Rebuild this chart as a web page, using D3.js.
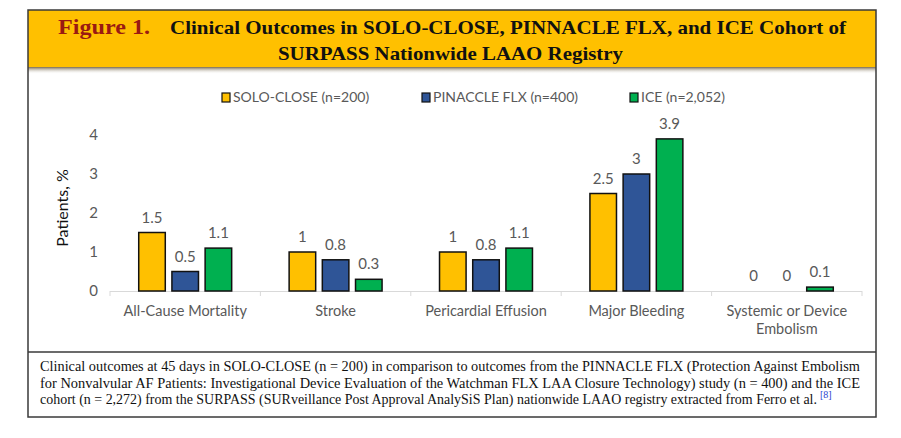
<!DOCTYPE html>
<html>
<head>
<meta charset="utf-8">
<script src="https://cdn.jsdelivr.net/npm/d3@7"></script>
<style>
  body { margin: 0; background: #fff; }
  svg { display: block; }
  .sans { font-family: Lato, "Open Sans", sans-serif; }
  .serif { font-family: "Liberation Serif", "DejaVu Serif", serif; }
</style>
</head>
<body>
<div id="chart"></div>
<script>
'use strict';
(function() {
  // Data
  var categories = ['All-Cause Mortality', 'Stroke', 'Pericardial Effusion', 'Major Bleeding', 'Systemic or Device Embolism'];
  var seriesNames = ['SOLO-CLOSE (n=200)', 'PINACCLE FLX (n=400)', 'ICE (n=2,052)'];
  var soloClose = [1.5, 1, 1, 2.5, 0];
  var pinnacleFlx = [0.5, 0.8, 0.8, 3, 0];
  var ice = [1.1, 0.3, 1.1, 3.9, 0.1];
  var yTicks = [0, 1, 2, 3, 4];
  var titleLines = ['Clinical Outcomes in SOLO-CLOSE, PINNACLE FLX, and ICE Cohort of', 'SURPASS Nationwide LAAO Registry'];
  var captionLines = [
    'Clinical outcomes at 45 days in SOLO-CLOSE (n = 200) in comparison to outcomes from the PINNACLE FLX (Protection Against Embolism',
    'for Nonvalvular AF Patients: Investigational Device Evaluation of the Watchman FLX LAA Closure Technology) study (n = 400) and the ICE',
    'cohort (n = 2,272) from the SURPASS (SURveillance Post Approval AnalySiS Plan) nationwide LAAO registry extracted from Ferro et al.'
  ];

  // Colors
  var COLORS = ['#FFC000', '#2F5597', '#00B050'];

  var w = 901;
  var h = 438;
  var box = {left: 28, right: 876, top: 10, bottom: 417};
  var plot = {left: 110, right: 862, top: 135, bottom: 291};

  var series = [soloClose, pinnacleFlx, ice];
  var rows = categories.map(function(c, i) {
    return {name: c, values: series.map(function(s, j) { return {key: j, value: s[i]}; })};
  });

  var svg = d3.select('#chart')
    .append('svg')
    .attr('width', w)
    .attr('height', h);

  var defs = svg.append('defs');
  var grad = defs.append('linearGradient')
    .attr('id', 'shadow')
    .attr('x1', 0).attr('y1', 0).attr('x2', 0).attr('y2', 1);
  grad.append('stop').attr('offset', '0%').attr('stop-color', '#6b5a3a').attr('stop-opacity', 0.9);
  grad.append('stop').attr('offset', '100%').attr('stop-color', '#ffffff').attr('stop-opacity', 0);

  // Banner
  svg.append('rect')
    .attr('x', box.left).attr('y', 67)
    .attr('width', box.right - box.left).attr('height', 7)
    .attr('fill', 'url(#shadow)');
  svg.append('rect')
    .attr('x', box.left).attr('y', box.top)
    .attr('width', box.right - box.left).attr('height', 57)
    .attr('fill', '#FFC000');

  // Frame
  svg.append('rect')
    .attr('x', box.left).attr('y', box.top)
    .attr('width', box.right - box.left).attr('height', box.bottom - box.top)
    .attr('fill', 'none')
    .attr('stroke', '#3a3a3a')
    .attr('stroke-width', 1.5);
  svg.append('line')
    .attr('x1', box.left).attr('x2', box.right)
    .attr('y1', 352).attr('y2', 352)
    .attr('stroke', '#3a3a3a')
    .attr('stroke-width', 1.5);

  // Title
  svg.append('text')
    .attr('class', 'serif')
    .attr('x', 58).attr('y', 34)
    .attr('font-size', 21)
    .attr('font-weight', 'bold')
    .attr('fill', '#9a1a12')
    .attr('textLength', 92)
    .attr('lengthAdjust', 'spacingAndGlyphs')
    .text('Figure 1.');
  svg.append('text')
    .attr('class', 'serif')
    .attr('x', 170).attr('y', 34)
    .attr('font-size', 19)
    .attr('font-weight', 'bold')
    .attr('fill', '#111')
    .attr('textLength', 676)
    .attr('lengthAdjust', 'spacingAndGlyphs')
    .text(titleLines[0]);
  svg.append('text')
    .attr('class', 'serif')
    .attr('x', 278).attr('y', 60)
    .attr('font-size', 19)
    .attr('font-weight', 'bold')
    .attr('fill', '#111')
    .attr('textLength', 345)
    .attr('lengthAdjust', 'spacingAndGlyphs')
    .text(titleLines[1]);

  // Scales
  var x0 = d3.scaleBand()
    .domain(categories)
    .range([plot.left, plot.right])
    .paddingInner(0.382)
    .paddingOuter(0.191);

  var x1 = d3.scaleBand()
    .domain([0, 1, 2])
    .range([0, x0.bandwidth()])
    .paddingInner(0.2);

  var yScale = d3.scaleLinear()
    .domain([0, 4])
    .range([plot.bottom, plot.top]);

  // Y axis
  var yAxis = d3.axisLeft(yScale)
    .tickValues(yTicks)
    .tickSize(0)
    .tickPadding(0)
    .tickFormat(d3.format('d'));

  var gy = svg.append('g')
    .attr('class', 'sans')
    .attr('transform', 'translate(98,0)')
    .call(yAxis);
  gy.select('.domain').remove();
  gy.selectAll('text')
    .attr('font-size', 15)
    .attr('font-family', 'Lato, sans-serif')
    .attr('fill', '#595959');

  svg.append('text')
    .attr('class', 'sans')
    .attr('transform', 'translate(68,' + 208 + ') rotate(-90)')
    .attr('text-anchor', 'middle')
    .attr('font-size', 16)
    .attr('fill', '#111')
    .text('Patients, %');

  // X axis
  var step = x0.step();
  var bounds = categories.map(function(c) { return x0(c) - x0.paddingOuter() * step; });
  bounds.push(plot.right);

  svg.append('line')
    .attr('x1', plot.left).attr('x2', plot.right)
    .attr('y1', plot.bottom + 0.5).attr('y2', plot.bottom + 0.5)
    .attr('stroke', '#D9D9D9')
    .attr('stroke-width', 1);
  svg.append('g')
    .selectAll('line')
    .data(bounds)
    .enter()
    .append('line')
    .attr('x1', function(d) { return d; })
    .attr('x2', function(d) { return d; })
    .attr('y1', plot.bottom)
    .attr('y2', plot.bottom + 5)
    .attr('stroke', '#D9D9D9');

  // Category labels
  var catLabels = svg.append('g')
    .attr('class', 'sans')
    .selectAll('text')
    .data(categories)
    .enter()
    .append('text')
    .attr('text-anchor', 'middle')
    .attr('font-size', 14.5)
    .attr('fill', '#595959')
    .attr('x', function(d) { return x0(d) + x0.bandwidth() / 2; })
    .attr('y', 316);
  catLabels.each(function(d) {
    var t = d3.select(this);
    var parts = d === 'Systemic or Device Embolism' ? ['Systemic or Device', 'Embolism'] : [d];
    parts.forEach(function(p, i) {
      t.append('tspan')
        .attr('x', x0(d) + x0.bandwidth() / 2)
        .attr('dy', i === 0 ? 0 : 18)
        .text(p);
    });
  });

  // Bars
  var groups = svg.append('g')
    .attr('class', 'data')
    .selectAll('g')
    .data(rows)
    .enter()
    .append('g')
    .attr('transform', function(d) { return 'translate(' + x0(d.name) + ',0)'; });

  groups.selectAll('rect')
    .data(function(d) { return d.values.filter(function(v) { return v.value > 0; }); })
    .enter()
    .append('rect')
    .attr('x', function(d) { return x1(d.key); })
    .attr('y', function(d) { return yScale(d.value); })
    .attr('width', x1.bandwidth())
    .attr('height', function(d) { return plot.bottom - yScale(d.value); })
    .attr('fill', function(d) { return COLORS[d.key]; })
    .attr('stroke', '#111')
    .attr('stroke-width', 1.5);

  // Value labels
  groups.selectAll('text')
    .data(function(d) { return d.values; })
    .enter()
    .append('text')
    .attr('class', 'sans')
    .attr('text-anchor', 'middle')
    .attr('font-size', 15)
    .attr('fill', '#595959')
    .attr('x', function(d) { return x1(d.key) + x1.bandwidth() / 2; })
    .attr('y', function(d) { return yScale(d.value) - 10; })
    .text(function(d) { return d.value; });

  // Legend
  var legendX = [222, 422, 630];
  var legend = svg.append('g')
    .attr('class', 'sans')
    .selectAll('g')
    .data(seriesNames)
    .enter()
    .append('g')
    .attr('transform', function(d, i) { return 'translate(' + legendX[i] + ',93)'; });
  legend.append('rect')
    .attr('width', 8).attr('height', 9)
    .attr('fill', function(d, i) { return COLORS[i]; })
    .attr('stroke', '#111')
    .attr('stroke-width', 1.2);
  legend.append('text')
    .attr('x', 11).attr('y', 9)
    .attr('font-size', 14)
    .attr('fill', '#595959')
    .text(function(d) { return d; });

  // Caption
  var caption = svg.append('g').attr('class', 'serif');
  caption.selectAll('text')
    .data(captionLines)
    .enter()
    .append('text')
    .attr('x', 40)
    .attr('y', function(d, i) { return 371 + i * 16.5; })
    .attr('font-size', 14)
    .attr('fill', '#111')
    .attr('textLength', function(d, i) { return i < 2 ? 820 : 777; })
    .attr('lengthAdjust', 'spacingAndGlyphs')
    .text(function(d) { return d; });
  caption.append('text')
    .attr('x', 820)
    .attr('y', 371 + 2 * 16.5 - 6)
    .attr('font-size', 10)
    .attr('fill', '#2a3fd0')
    .text('[8]');
})();
</script>
</body>
</html>
